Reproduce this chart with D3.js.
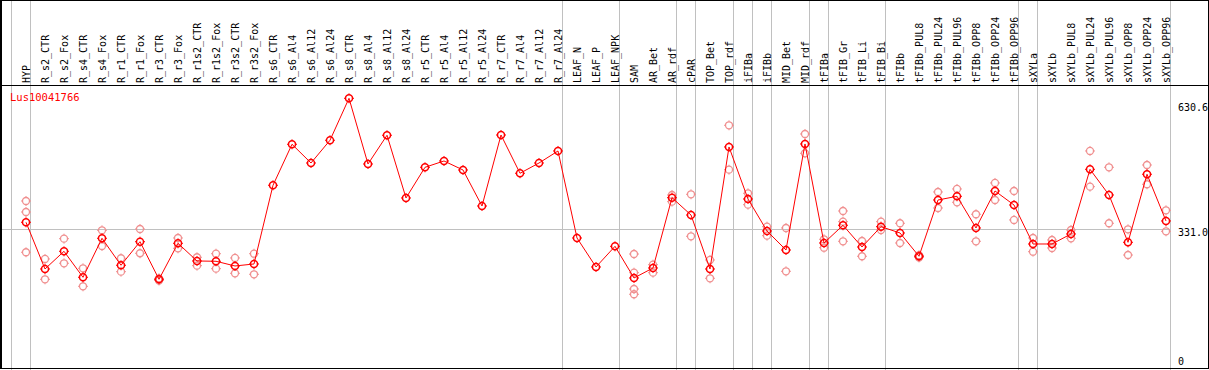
<!DOCTYPE html>
<html>
<head>
<meta charset="utf-8">
<script src="https://cdn.jsdelivr.net/npm/d3@7"></script>
<style>
  body { margin: 0; background: #fff; }
  svg { display: block; }
  text { font-family: "DejaVu Sans Mono", monospace; }
</style>
</head>
<body>
<svg width="1209" height="370"></svg>
<script>
var categories = ["HYP", "R_s2_CTR", "R_s2_Fox", "R_s4_CTR", "R_s4_Fox", "R_r1_CTR", "R_r1_Fox",
    "R_r3_CTR", "R_r3_Fox", "R_r1s2_CTR", "R_r1s2_Fox", "R_r3s2_CTR", "R_r3s2_Fox",
    "R_s6_CTR", "R_s6_Al4", "R_s6_Al12", "R_s6_Al24", "R_s8_CTR", "R_s8_Al4", "R_s8_Al12", "R_s8_Al24",
    "R_r5_CTR", "R_r5_Al4", "R_r5_Al12", "R_r5_Al24", "R_r7_CTR", "R_r7_Al4", "R_r7_Al12", "R_r7_Al24",
    "LEAF_N", "LEAF_P", "LEAF_NPK", "SAM", "AR_Bet", "AR_rdf", "cPAR", "TOP_Bet", "TOP_rdf",
    "iFIBa", "iFIBb", "MID_Bet", "MID_rdf", "tFIBa", "tFIB_Gr", "tFIB_Li", "tFIB_Bi",
    "tFIBb", "tFIBb_PUL8", "tFIBb_PUL24", "tFIBb_PUL96", "tFIBb_OPP8", "tFIBb_OPP24", "tFIBb_OPP96",
    "sXYLa", "sXYLb", "sXYLb_PUL8", "sXYLb_PUL24", "sXYLb_PUL96", "sXYLb_OPP8", "sXYLb_OPP24", "sXYLb_OPP96"];

var means = [345.8, 238.5, 279.1, 219.4, 309.0, 247.0, 301.2, 214.8, 297.5, 256.9, 256.2, 245.4, 250.0,
    430.8, 525.0, 482.0, 534.2, 630.6, 479.7, 545.7, 401.6, 472.1, 486.6, 465.9, 383.2,
    546.3, 458.4, 482.0, 509.6, 309.7, 243.1, 290.6, 217.8, 240.8, 402.3, 362.5, 238.5, 518.8,
    399.3, 325.8, 282.1, 525.7, 298.2, 338.9, 289.0, 335.7, 321.2, 267.7, 397.0, 405.5, 332.7,
    417.7, 385.5, 295.9, 295.9, 318.9, 467.5, 408.5, 299.8, 456.1, 348.8];

var replicates = [[394.7, 369.4, 276.9], [261.5, 214.8], [308.1, 251.6], [240.1, 198.7], [327.4, 291.3],
    [263.1, 232.3], [330.4, 274.6], [217.0, 212.0], [309.7, 286.0], [265.4, 246.1], [273.6, 239.2],
    [263.8, 228.6], [273.6, 226.3],
    [], [], [], [], [], [], [], [], [], [], [], [], [], [], [], [], [], [], [],
    [272.9, 230.0, 192.5, 180.4], [248.4, 230.0], [408.5, 393.1], [410.1, 313.6], [259.2, 217.1],
    [568.6, 466.6], [412.4, 386.2], [335.7, 315.0], [332.7, 233.2], [548.6, 504.3], [306.7, 287.4],
    [371.7, 347.2, 302.1], [302.8, 267.7], [347.2, 328.1], [343.5, 298.2], [270.0, 265.0],
    [415.4, 378.6], [422.3, 391.7], [364.2, 302.1], [436.1, 397.0], [417.7, 351.1],
    [309.7, 278.2], [305.1, 286.7], [328.1, 309.0], [509.6, 427.6], [472.1, 343.5],
    [329.7, 270.6], [477.4, 433.1], [373.3, 325.1]];

// group separators sit after these columns (-1 = before the first one)
var separators = [-1, 0, 28, 31, 34, 35, 37, 38, 39, 41, 42, 45, 52, 53, 60];
var yTicks = [630.6, 331.0, 0];
var geneName = "Lus10041766";

var svg = d3.select("svg");
var W = 1209, H = 370;

var x = d3.scaleBand().domain(categories).range([16.5, 16.5 + 19 * categories.length]);
var y = d3.scaleLinear().domain([0, 630.6]).range([372.8, 98.3]);

function cx(d) {
    return x(d) + x.bandwidth() / 2;
}

// gray separators
svg.append("g").selectAll("line").data(separators).enter().append("line")
    .attr("x1", function (d) { return Math.round(cx(categories[0]) + 19 * d + 4) + 0.5; })
    .attr("x2", function (d) { return Math.round(cx(categories[0]) + 19 * d + 4) + 0.5; })
    .attr("y1", 0).attr("y2", H)
    .attr("stroke", "#c0c0c0").attr("stroke-width", 1)
    .attr("shape-rendering", "crispEdges");

// mid gridline
svg.append("line")
    .attr("x1", 0).attr("x2", cx(categories[categories.length - 1]) + 4)
    .attr("y1", Math.round(y(331.0)) + 0.5).attr("y2", Math.round(y(331.0)) + 0.5)
    .attr("stroke", "#c0c0c0").attr("stroke-width", 1)
    .attr("shape-rendering", "crispEdges");

// frame
svg.append("rect").attr("x", 1).attr("y", 0.5).attr("width", W - 2).attr("height", H - 2)
    .attr("fill", "none").attr("stroke", "#000").attr("stroke-width", 1)
    .attr("shape-rendering", "crispEdges");
svg.append("line").attr("x1", 0.5).attr("x2", 0.5).attr("y1", 0).attr("y2", H - 1)
    .attr("stroke", "#000").attr("shape-rendering", "crispEdges");
svg.append("line").attr("x1", 0).attr("x2", W).attr("y1", 85.5).attr("y2", 85.5)
    .attr("stroke", "#000").attr("stroke-width", 1).attr("shape-rendering", "crispEdges");

// column labels
svg.append("g").selectAll("text").data(categories).enter().append("text")
    .attr("transform", function (d) { return "translate(" + (cx(d) + 3.5) + ",83) rotate(-90)"; })
    .attr("font-size", "10px")
    .attr("fill", "#000")
    .text(function (d) { return d; });

// y labels
svg.append("g").selectAll("text").data(yTicks).enter().append("text")
    .attr("x", 1178)
    .attr("y", function (d) {
        if (d === 0) return 365;
        return d === 331.0 ? y(d) + 0.5 : y(d) + 5.5;
    })
    .attr("dominant-baseline", function (d) { return d === 0 ? "auto" : "hanging"; })
    .attr("font-size", "10px")
    .attr("fill", "#000")
    .text(function (d) { return d === 0 ? "0" : d.toFixed(1); });

svg.append("text").attr("x", 10).attr("y", 101)
    .attr("font-size", "10.5px").attr("fill", "red")
    .text(geneName);

// replicate points
var reps = [];
replicates.forEach(function (vals, i) {
    vals.forEach(function (v) { reps.push({cat: categories[i], v: v}); });
});

function marker(g, color, width) {
    g.append("circle").attr("r", 3.5).attr("fill", "none")
        .attr("stroke", color).attr("stroke-width", width);
    [[0, -1], [0, 1], [-1, 0], [1, 0]].forEach(function (p) {
        g.append("line")
            .attr("x1", p[0] * 3.5).attr("y1", p[1] * 3.5)
            .attr("x2", p[0] * 5).attr("y2", p[1] * 5)
            .attr("stroke", color).attr("stroke-width", 1);
    });
}

svg.append("g").selectAll("g").data(reps).enter().append("g")
    .attr("transform", function (d) { return "translate(" + cx(d.cat) + "," + y(d.v) + ")"; })
    .each(function () { marker(d3.select(this), "#f09090", 1.3); });

// mean line
var line = d3.line()
    .x(function (d, i) { return cx(categories[i]); })
    .y(function (d) { return y(d); });

svg.append("path").datum(means)
    .attr("d", line)
    .attr("fill", "none").attr("stroke", "red").attr("stroke-width", 1);

svg.append("g").selectAll("g").data(means).enter().append("g")
    .attr("transform", function (d, i) { return "translate(" + cx(categories[i]) + "," + y(d) + ")"; })
    .each(function () { marker(d3.select(this), "red", 1.5); });
</script>
</body>
</html>
